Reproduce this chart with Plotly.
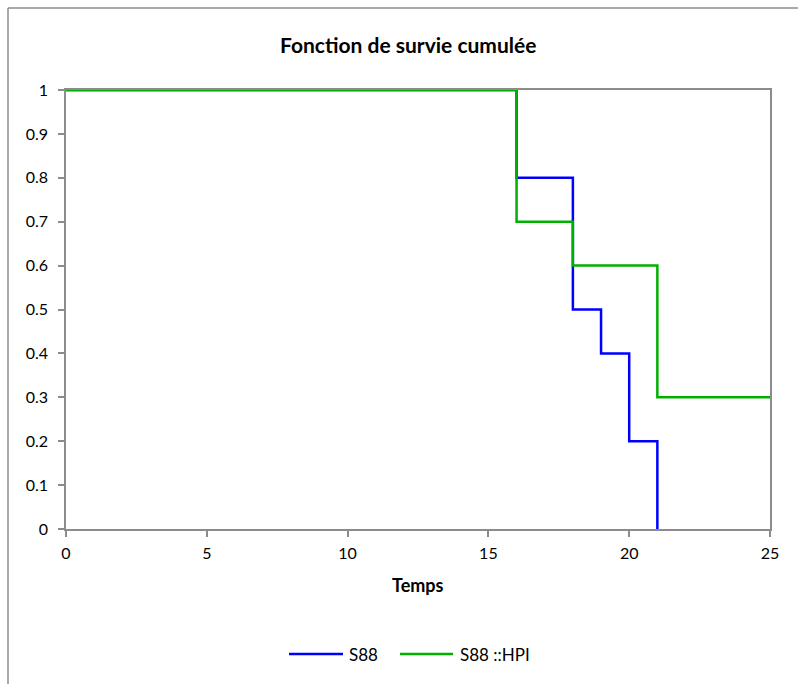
import plotly.graph_objects as go

# Kaplan-Meier style cumulative survival steps
s88_time = [0, 16, 18, 19, 20, 21]
s88_surv = [1, 0.8, 0.5, 0.4, 0.2, 0]

hpi_time = [0, 16, 18, 21, 25]
hpi_surv = [1, 0.7, 0.6, 0.3, 0.3]

series_names = ["S88", "S88 ::HPI"]
series_colors = ["#0000ff", "#00b000"]

x_ticks = [0, 5, 10, 15, 20, 25]
y_ticks = [0, 0.1, 0.2, 0.3, 0.4, 0.5, 0.6, 0.7, 0.8, 0.9, 1]

FONT = "Lato, 'Open Sans', sans-serif"
AXIS_GREY = "#8c8c8c"

W, H = 798, 684
L, R, T, B = 66, 28, 90, 155
pw, ph = W - L - R, H - T - B


def px(xp):
    return (xp - L) / pw


def py(yp):
    return 1 - (yp - T) / ph


fig = go.Figure()
fig.add_trace(go.Scatter(x=s88_time, y=s88_surv, mode="lines", line_shape="hv",
                         name=series_names[0], line=dict(color=series_colors[0], width=2.5)))
fig.add_trace(go.Scatter(x=hpi_time, y=hpi_surv, mode="lines", line_shape="hv",
                         name=series_names[1], line=dict(color=series_colors[1], width=2.5)))

axis_common = dict(showline=True, linecolor=AXIS_GREY, linewidth=1.5, mirror=True,
                   ticks="outside", ticklen=6, tickcolor=AXIS_GREY, tickwidth=1.5,
                   showgrid=False, zeroline=False,
                   tickfont=dict(family=FONT, size=16, color="#000000"))

fig.update_xaxes(range=[0, 25], tickvals=x_ticks, ticktext=[str(v) for v in x_ticks],
                 ticklabelstandoff=3, **axis_common)
fig.update_yaxes(range=[0, 1], tickvals=y_ticks, ticktext=[f"{v:g}" for v in y_ticks],
                 ticklabelstandoff=7, **axis_common)

# outer chart frame (left and top edges)
fx = px(8)
fy = py(8)
shapes = [
    dict(type="line", xref="paper", yref="paper", x0=fx, x1=fx, y0=-1, y1=fy,
         line=dict(color=AXIS_GREY, width=1.5)),
    dict(type="line", xref="paper", yref="paper", x0=fx, x1=2, y0=fy, y1=fy,
         line=dict(color=AXIS_GREY, width=1.5)),
]

annotations = [
    dict(text="<b>Fonction de survie cumulée</b>", xref="paper", yref="paper",
         x=px(408), y=py(45), showarrow=False,
         font=dict(family=FONT, size=21, color="#000000"), xanchor="center", yanchor="middle"),
    dict(text="<b>Temps</b>", xref="paper", yref="paper",
         x=px(418), y=py(585), showarrow=False,
         font=dict(family=FONT, size=18, color="#000000"), xanchor="center", yanchor="middle"),
]

# legend: line sample followed by series name
legend_items = [(289, 343, 347), (400, 453, 458)]
for (lx0, lx1, tx), name, color in zip(legend_items, series_names, series_colors):
    shapes.append(dict(type="line", xref="paper", yref="paper", x0=px(lx0), x1=px(lx1),
                       y0=py(654), y1=py(654), line=dict(color=color, width=2.5)))
    annotations.append(dict(text=name, xref="paper", yref="paper", x=px(tx), y=py(654),
                            showarrow=False, xanchor="left", yanchor="middle",
                            font=dict(family=FONT, size=17, color="#000000")))

fig.update_layout(
    width=W, height=H,
    margin=dict(l=L, r=R, t=T, b=B),
    paper_bgcolor="white", plot_bgcolor="white",
    shapes=shapes, annotations=annotations,
    showlegend=False,
)

fig.write_html("out.html")
